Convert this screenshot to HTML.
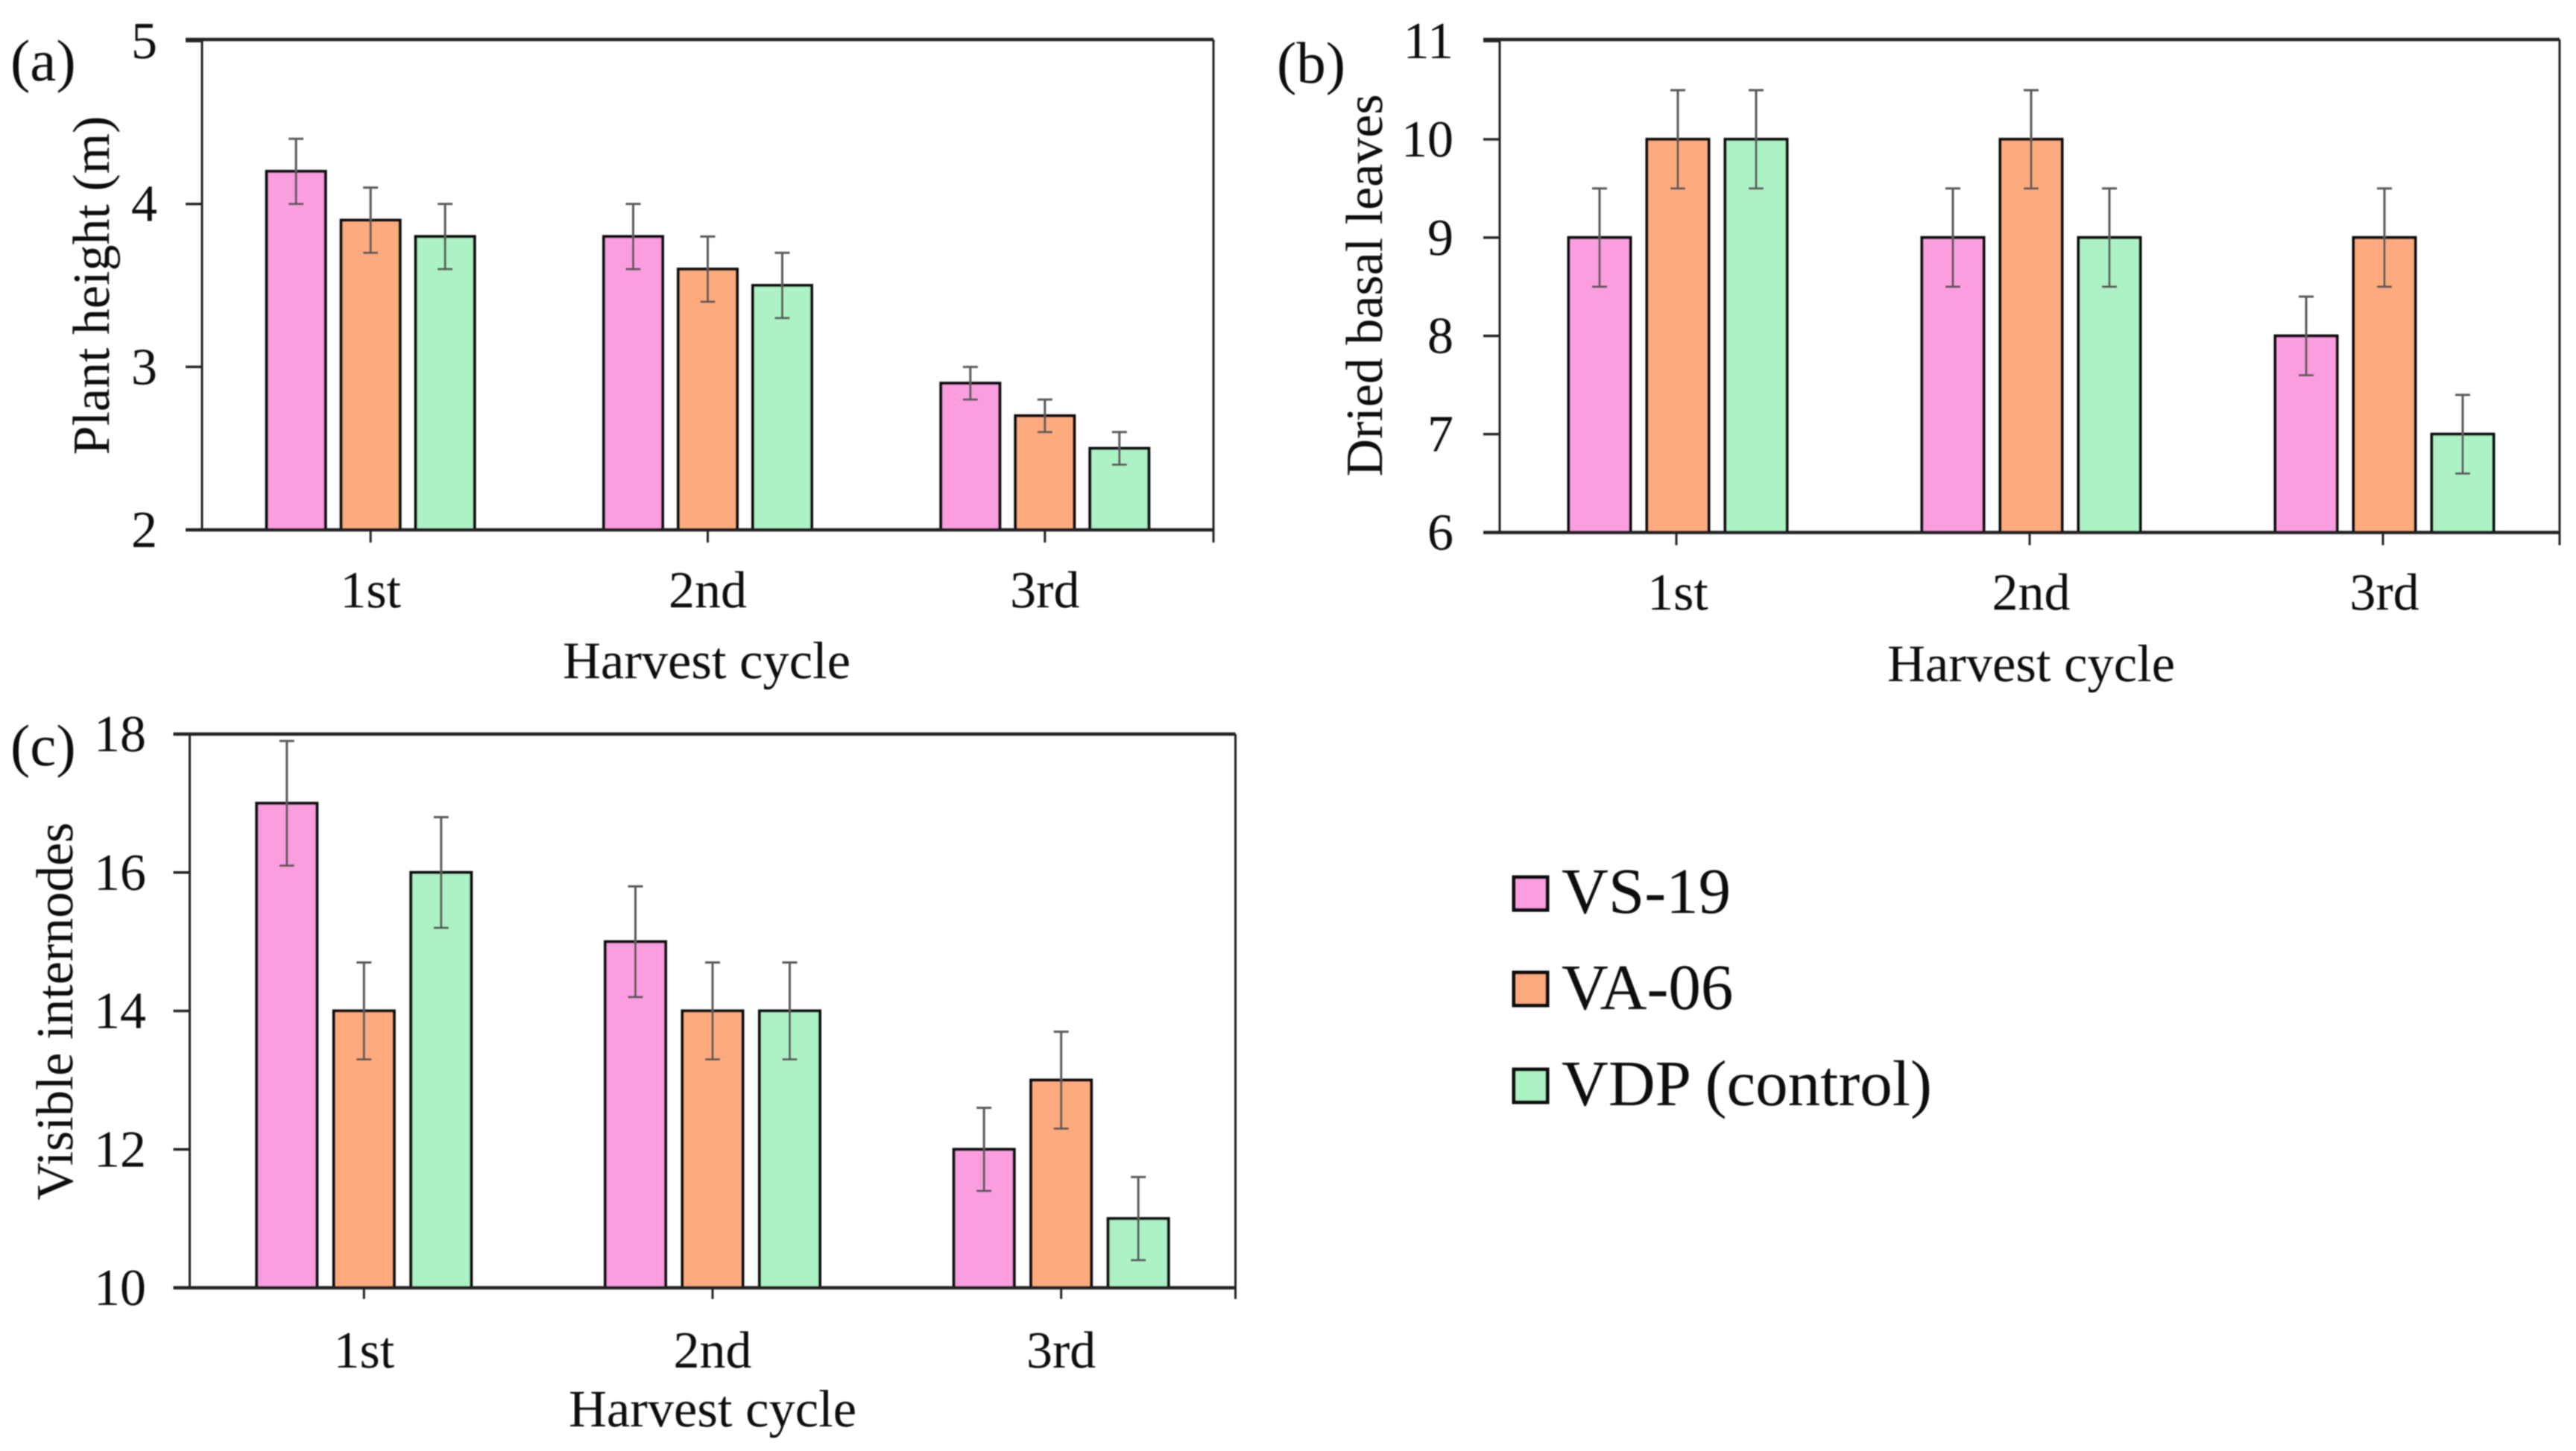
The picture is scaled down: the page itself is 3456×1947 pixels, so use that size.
<!DOCTYPE html>
<html>
<head>
<meta charset="utf-8">
<title>Harvest cycle bar charts</title>
<style>
html,body{margin:0;padding:0;background:#fff;}
body{width:3456px;height:1947px;overflow:hidden;}
svg{display:block;}
text{font-family:"Liberation Serif",serif;fill:#0a0a0a;text-rendering:geometricPrecision;}
</style>
</head>
<body>
<svg id="figure" xmlns="http://www.w3.org/2000/svg" width="3456" height="1947" viewBox="0 0 3456 1947">
  <defs><filter id="soft" x="0" y="0" width="100%" height="100%" filterUnits="userSpaceOnUse" primitiveUnits="userSpaceOnUse"><feGaussianBlur stdDeviation="0.8"/></filter></defs>
  <rect width="3456" height="1947" fill="#fff"/>
  <g id="root" filter="url(#soft)">
    <g id="panel-a">
      <text x="14" y="108" font-size="79">(a)</text>
      <text transform="translate(146,383) rotate(-90)" text-anchor="middle" font-size="70">Plant height (m)</text>
      <text x="948" y="910" text-anchor="middle" font-size="70.6">Harvest cycle</text>
    </g>
    <g id="panel-b">
      <text x="1713" y="111" font-size="79">(b)</text>
      <text transform="translate(1854,383) rotate(-90)" text-anchor="middle" font-size="70">Dried basal leaves</text>
      <text x="2725" y="914" text-anchor="middle" font-size="70.6">Harvest cycle</text>
    </g>
    <g id="panel-c">
      <text x="14" y="1027" font-size="79">(c)</text>
      <text transform="translate(97,1357) rotate(-90)" text-anchor="middle" font-size="70">Visible internodes</text>
      <text x="956" y="1914" text-anchor="middle" font-size="70.6">Harvest cycle</text>
    </g>
    <g id="legend">
      <g>
        <rect x="2031" y="1177" width="45" height="44" fill="#FA9EDF" stroke="#111" stroke-width="5"/>
        <text x="2095" y="1225" font-size="87">VS-19</text>
      </g>
      <g>
        <rect x="2031" y="1305" width="45" height="44" fill="#FEAA7F" stroke="#111" stroke-width="5"/>
        <text x="2095" y="1354" font-size="87">VA-06</text>
      </g>
      <g>
        <rect x="2031" y="1435" width="45" height="44" fill="#ACF2C5" stroke="#111" stroke-width="5"/>
        <text x="2095" y="1483" font-size="87">VDP (control)</text>
      </g>
    </g>
  </g>
</svg>
<script>
const categories = ['1st', '2nd', '3rd'];
const seriesNames = ['VS-19', 'VA-06', 'VDP'];

const plantHeightVS19 = [4.2, 3.8, 2.9];
const plantHeightVA06 = [3.9, 3.6, 2.7];
const plantHeightVDP = [3.8, 3.5, 2.5];
const plantHeightErrVS19 = [0.2, 0.2, 0.1];
const plantHeightErrVA06 = [0.2, 0.2, 0.1];
const plantHeightErrVDP = [0.2, 0.2, 0.1];
const plantHeightTicks = [2, 3, 4, 5];

const basalLeavesVS19 = [9, 9, 8];
const basalLeavesVA06 = [10, 10, 9];
const basalLeavesVDP = [10, 9, 7];
const basalLeavesErrVS19 = [0.5, 0.5, 0.4];
const basalLeavesErrVA06 = [0.5, 0.5, 0.5];
const basalLeavesErrVDP = [0.5, 0.5, 0.4];
const basalLeavesTicks = [6, 7, 8, 9, 10, 11];

const internodesVS19 = [17, 15, 12];
const internodesVA06 = [14, 14, 13];
const internodesVDP = [16, 14, 11];
const internodesErrVS19 = [0.9, 0.8, 0.6];
const internodesErrVA06 = [0.7, 0.7, 0.7];
const internodesErrVDP = [0.8, 0.7, 0.6];
const internodesTicks = [10, 12, 14, 16, 18];

const seriesFills = ['#FA9EDF', '#FEAA7F', '#ACF2C5'];
const NS = 'http://www.w3.org/2000/svg';

function make(tag, attrs, parent) {
  const el = document.createElementNS(NS, tag);
  for (const k in attrs) el.setAttribute(k, attrs[k]);
  parent.appendChild(el);
  return el;
}

function drawPanel(p) {
  const host = document.getElementById(p.id);
  const g = make('g', {}, host);
  
  
  const yMin = p.ticks[0];
  const yMax = p.ticks[p.ticks.length - 1];
  const yScale = function (v) {
    return p.bottom - (v - yMin) / (yMax - yMin) * (p.bottom - p.yTop);
  };
  const bandWidth = (p.right - p.left) / categories.length;
  const xScale = function (i) {
    return p.left + bandWidth * (i + 0.5);
  };
  const barX = function (i, s) {
    return xScale(i) + p.shift + (s - 1) * p.spacing;
  };

  // bars
  p.values.forEach(function (vals, s) {
    vals.forEach(function (v, i) {
      const y = yScale(v);
      const bar = make('rect', {
        x: barX(i, s) - p.barWidth / 2, y: y, width: p.barWidth, height: p.bottom - y,
        fill: seriesFills[s], stroke: '#111', 'stroke-width': 4
      }, g);
      
      
    });
  });

  // axes
  const axis = make('path', {
    d: 'M' + (p.left - 22) + ' ' + p.top + 'H' + p.right + 'M' + (p.left - 22) + ' ' + p.bottom + 'H' + p.right,
    fill: 'none', stroke: '#222', 'stroke-width': 4.4
  }, g);
  
  
  const sides = make('path', {
    d: 'M' + p.left + ' ' + p.top + 'V' + p.bottom + 'M' + p.right + ' ' + p.top + 'V' + (p.bottom + p.tick),
    fill: 'none', stroke: '#222', 'stroke-width': 3
  }, g);
  
  

  // y ticks
  p.ticks.forEach(function (t) {
    const y = yScale(t);
    const tick = make('line', { x1: p.left - 22, x2: p.left, y1: y, y2: y, stroke: '#222', 'stroke-width': 3.4 }, g);
    
    
    const label = make('text', { x: p.yLabelX, y: y + 23, 'text-anchor': 'end', 'font-size': 70 }, g);
    label.textContent = t;
    
    
  });

  // x ticks
  categories.forEach(function (c, i) {
    const x = xScale(i);
    const tick = make('line', { x1: x, x2: x, y1: p.bottom, y2: p.bottom + p.tick, stroke: '#222', 'stroke-width': 3 }, g);
    
    
    const label = make('text', { x: x + p.shift, y: p.xLabelY, 'text-anchor': 'middle', 'font-size': 70 }, g);
    label.textContent = c;
    
    
  });

  // error bars
  p.values.forEach(function (vals, s) {
    vals.forEach(function (v, i) {
      const x = barX(i, s);
      const yHi = yScale(v + p.errors[s][i]);
      const yLo = yScale(v - p.errors[s][i]);
      const err = make('path', {
        d: 'M' + x + ' ' + yHi + 'V' + yLo + 'M' + (x - 10) + ' ' + yHi + 'H' + (x + 10) + 'M' + (x - 10) + ' ' + yLo + 'H' + (x + 10),
        fill: 'none', stroke: '#5a5a5a', 'stroke-width': 3
      }, g);
      
      
    });
  });
}

drawPanel({
  id: 'panel-a', left: 271, right: 1628, top: 53, yTop: 55, bottom: 711, tick: 17,
  barWidth: 79, spacing: 100, shift: 0, yLabelX: 211, xLabelY: 815,
  ticks: plantHeightTicks,
  values: [plantHeightVS19, plantHeightVA06, plantHeightVDP],
  errors: [plantHeightErrVS19, plantHeightErrVA06, plantHeightErrVDP]
});
drawPanel({
  id: 'panel-b', left: 2012, right: 3434, top: 53, yTop: 55, bottom: 714.5, tick: 17,
  barWidth: 83, spacing: 105, shift: 2, yLabelX: 1950, xLabelY: 818,
  ticks: basalLeavesTicks,
  values: [basalLeavesVS19, basalLeavesVA06, basalLeavesVDP],
  errors: [basalLeavesErrVS19, basalLeavesErrVA06, basalLeavesErrVDP]
});
drawPanel({
  id: 'panel-c', left: 254.5, right: 1657.5, top: 985, yTop: 985, bottom: 1728, tick: 15,
  barWidth: 81, spacing: 103.5, shift: 0, yLabelX: 196, xLabelY: 1835,
  ticks: internodesTicks,
  values: [internodesVS19, internodesVA06, internodesVDP],
  errors: [internodesErrVS19, internodesErrVA06, internodesErrVDP]
});
</script>
</body>
</html>
